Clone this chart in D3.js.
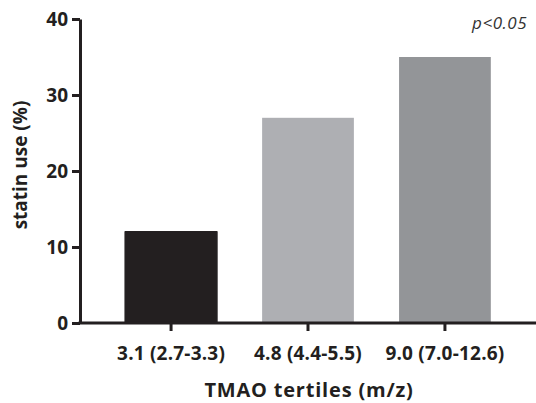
<!DOCTYPE html>
<html><head><meta charset="utf-8">
<script src="https://cdn.jsdelivr.net/npm/d3@7"></script>
<style>body{margin:0;background:#fff}svg{display:block}text{font-family:"Open Sans",sans-serif}</style>
</head><body>
<script>
const categories = ["3.1 (2.7-3.3)", "4.8 (4.4-5.5)", "9.0 (7.0-12.6)"];
const values = [12, 27, 35];
const yTicks = [0, 10, 20, 30, 40];
const colors = ["#231f20", "#aeafb3", "#939598"];

const W = 536, H = 403;
const svg = d3.select("body").append("svg").attr("width", W).attr("height", H);

const x0 = 80, x1 = 536, yTop = 19, yBot = 323;
const x = d3.scaleBand().domain(categories).range([x0, x1]).paddingInner(0.33).paddingOuter(0.33);
const y = d3.scaleLinear().domain([0, 40]).range([yBot, yTop]);

// bars
svg.selectAll("rect.bar").data(values).join("rect")
  .attr("class", "bar")
  .attr("x", (d, i) => x(categories[i]))
  .attr("width", x.bandwidth())
  .attr("y", d => y(d))
  .attr("height", d => y(0) - y(d))
  .attr("fill", (d, i) => colors[i])
  .attr("stroke", (d, i) => i === 0 ? "#231f20" : "none")
  .attr("stroke-width", 1.5)
  .attr("stroke-linejoin", "round");

const axisColor = "#231f20";
// y axis
const ya = svg.append("g").attr("transform", `translate(${x0},0)`)
  .call(d3.axisLeft(y).tickValues(yTicks).tickSize(8).tickPadding(4).tickSizeOuter(0));
ya.select(".domain").attr("stroke", axisColor).attr("stroke-width", 3);
ya.selectAll(".tick line").attr("stroke", axisColor).attr("stroke-width", 3);
ya.selectAll(".tick text").attr("fill", axisColor).attr("font-size", 19).attr("font-weight", 700);

// x axis
const xa = svg.append("g").attr("transform", `translate(0,${yBot})`)
  .call(d3.axisBottom(x).tickSize(8).tickPadding(16).tickSizeOuter(0));
xa.select(".domain").attr("stroke", axisColor).attr("stroke-width", 3).attr("d", `M${x0 - 1.5},0H${x1}`);
xa.selectAll(".tick line").attr("stroke", axisColor).attr("stroke-width", 3);
xa.selectAll(".tick text").attr("fill", axisColor).attr("font-size", 19).attr("font-weight", 700)
  .attr("letter-spacing", 0.2);

// titles
svg.append("text").attr("x", 309).attr("y", 397).attr("text-anchor", "middle")
  .attr("font-size", 20).attr("font-weight", 700).attr("fill", axisColor).attr("letter-spacing", 0.8)
  .text("TMAO tertiles (m/z)");
svg.append("text").attr("transform", "translate(27,165) rotate(-90)").attr("text-anchor", "middle")
  .attr("font-size", 19).attr("font-weight", 700).attr("fill", axisColor)
  .text("statin use (%)");
svg.append("text").attr("x", 527).attr("y", 29).attr("text-anchor", "end")
  .attr("font-size", 17).attr("font-style", "italic").attr("fill", "#333").attr("letter-spacing", 0.5)
  .text("p<0.05");
</script>
</body></html>
